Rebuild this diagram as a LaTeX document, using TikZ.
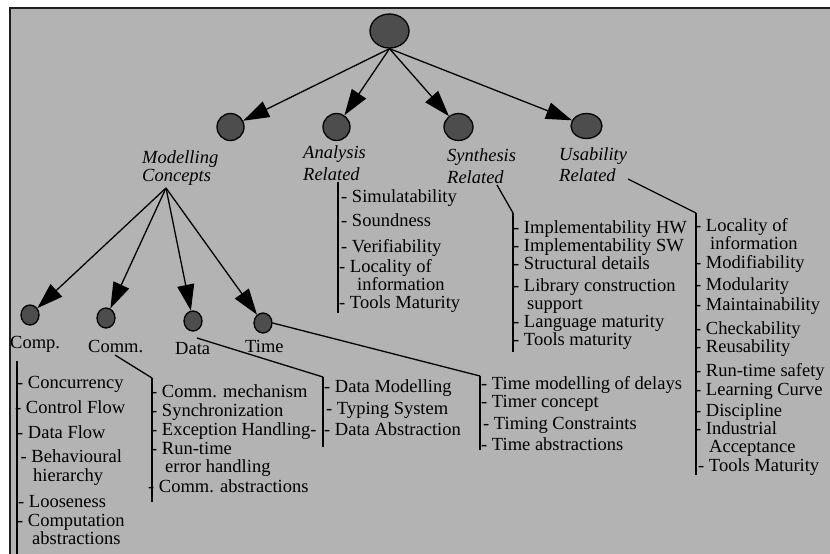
\documentclass[tikz,border=0pt]{standalone}
\usepackage{fontspec}
\setmainfont{Liberation Serif}
\usetikzlibrary{shapes.geometric,arrows.meta}
\definecolor{bggray}{HTML}{B3B3B3}
\definecolor{nodegray}{HTML}{4D4D4D}
\definecolor{framecol}{HTML}{1E1E1E}
\begin{document}
\begin{tikzpicture}[x=1pt,y=-1pt,
  font=\fontsize{18.5}{20}\selectfont,
  blob/.style={ellipse,draw=black,line width=1.3pt,fill=nodegray,inner sep=0pt},
  bigblob/.style={blob,minimum width=39pt,minimum height=34pt},
  midblob/.style={blob,minimum width=28pt,minimum height=27pt},
  smallblob/.style={blob,minimum width=18pt,minimum height=20pt},
  cat/.style={anchor=base west,inner sep=0pt,font=\fontsize{18.5}{20}\selectfont\itshape},
  lbl/.style={anchor=base west,inner sep=0pt},
  item/.style={anchor=base west,inner sep=0pt},
  arr/.style={line width=1.3pt,-{Triangle[length=26pt,width=17pt]}},
  conn/.style={line width=1.3pt},
  listline/.style={line width=2pt}]
\useasboundingbox (0,0) rectangle (830,554);
% frame
\fill[bggray] (10,7.7) rectangle (831,555);
\draw[framecol,line width=2.2pt] (10,556) -- (10,7.7) -- (832,7.7);

% root and first level
\node[bigblob] (root) at (389.5,31) {};
\node[midblob,minimum width=27pt] (mc) at (230.5,127) {};
\node[midblob,minimum width=27pt] (an) at (336.5,127) {};
\node[midblob,minimum width=29pt] (sy) at (458.5,127) {};
\node[midblob,minimum width=31pt,minimum height=25pt] (us) at (586.5,126) {};
\draw[arr] (root.south) -- (mc);
\draw[arr] (root.south) -- (an);
\draw[arr] (root.south) -- (sy);
\draw[arr] (root.south) -- (us);

% category labels
\node[cat] (mcA) at (142,163) {Modelling};
\node[cat] (mcB) at (142,181) {Concepts};
\node[cat] (anA) at (303,158) {Analysis};
\node[cat] (anB) at (303,180) {Related};
\node[cat] (syA) at (447,161) {Synthesis};
\node[cat] (syB) at (447,183) {Related};
\node[cat] (usA) at (559,160) {Usability};
\node[cat] (usB) at (559,181) {Related};

% modelling concepts children
\coordinate (mcpt) at (166,188);
\node[smallblob] (comp) at (30,315) {};
\node[smallblob] (comm) at (106,318) {};
\node[smallblob] (data) at (193,321) {};
\node[smallblob] (time) at (263,323) {};
\draw[arr] (mcpt) -- (comp);
\draw[arr] (mcpt) -- (comm);
\draw[arr] (mcpt) -- (data);
\draw[arr] (mcpt) -- (time);
\node[lbl] (compL) at (10,348) {Comp.};
\node[lbl] (commL) at (88,352) {Comm.};
\node[lbl] (dataL) at (175,354) {Data};
\node[lbl] (timeL) at (245,352) {Time};

% Analysis list
\coordinate (anT) at (338,182);
\coordinate (anE) at (338,313);
\draw[listline] (anT) -- (anE);
\node[item] (an1) at (341,202) {- Simulatability};
\node[item] (an2) at (341,226) {- Soundness};
\node[item] (an3) at (341,252) {- Verifiability};
\node[item] (an4) at (339,272) {- Locality of};
\node[item] (an4b) at (357,290) {information};
\node[item] (an5) at (339,308) {- Tools Maturity};

% Synthesis list
\coordinate (syS) at (497,185);
\coordinate (syT) at (513,213);
\coordinate (syE) at (513,352);
\draw[conn] (syS) -- (syT);
\draw[listline] (syT) -- (syE);
\node[item] (sy1) at (513,233) {- Implementability HW};
\node[item] (sy2) at (513,251) {- Implementability SW};
\node[item] (sy3) at (513,269) {- Structural details};
\node[item] (sy4) at (513,291) {- Library construction};
\node[item] (sy4b) at (527,309) {support};
\node[item] (sy5) at (513,327) {- Language maturity};
\node[item] (sy6) at (513,345) {- Tools maturity};

% Usability list
\coordinate (usS) at (628,179);
\coordinate (usT) at (696,213);
\coordinate (usE) at (696,475);
\draw[conn] (usS) -- (usT);
\draw[listline] (usT) -- (usE);
\node[item] (us1) at (695,231) {- Locality of};
\node[item] (us1b) at (710,249) {information};
\node[item] (us2) at (695,268) {- Modifiability};
\node[item] (us3) at (695,290) {- Modularity};
\node[item] (us4) at (695,310) {- Maintainability};
\node[item] (us5) at (695,334) {- Checkability};
\node[item] (us6) at (695,352) {- Reusability};
\node[item] (us7) at (695,376) {- Run-time safety};
\node[item] (us8) at (695,395) {- Learning Curve};
\node[item] (us9) at (695,416) {- Discipline};
\node[item] (us10) at (695,434) {- Industrial};
\node[item] (us10b) at (709,452) {Acceptance};
\node[item] (us11) at (698,471) {- Tools Maturity};

% Comp list
\coordinate (coT) at (17,361);
\coordinate (coE) at (17,556);
\draw[listline] (coT) -- (coE);
\node[item] (co1) at (17,388) {- Concurrency};
\node[item] (co2) at (15,413) {- Control Flow};
\node[item] (co3) at (17,438) {- Data Flow};
\node[item] (co4) at (20.5,462) {- Behavioural};
\node[item] (co4b) at (33,481) {hierarchy};
\node[item] (co5) at (18,507) {- Looseness};
\node[item] (co6) at (17,526) {- Computation};
\node[item] (co6b) at (32,544) {abstractions};

% Comm list
\coordinate (cmS) at (115,355);
\coordinate (cmT) at (152,378);
\coordinate (cmE) at (152,502);
\draw[conn] (cmS) -- (cmT);
\draw[listline] (cmT) -- (cmE);
\node[item] (cm1) at (151,397) {- Comm. mechanism};
\node[item] (cm2) at (151,416) {- Synchronization};
\node[item] (cm3) at (151,435) {- Exception Handling-};
\node[item] (cm4) at (151,454) {- Run-time};
\node[item] (cm4b) at (165,472) {error handling};
\node[item] (cm5) at (148,492) {- Comm. abstractions};

% Data list
\coordinate (daS) at (197,338);
\coordinate (daT) at (323,377);
\coordinate (daE) at (323,447);
\draw[conn] (daS) -- (daT);
\draw[listline] (daT) -- (daE);
\node[item] (da1) at (324,392) {- Data Modelling};
\node[item] (da2) at (326,414) {- Typing System};
\node[item] (da3) at (324,435) {- Data Abstraction};

% Time list
\coordinate (tiT) at (480,376);
\coordinate (tiE) at (480,450);
\draw[conn] (time.east) -- (tiT);
\draw[listline] (tiT) -- (tiE);
\node[item] (ti1) at (481,389) {- Time modelling of delays};
\node[item] (ti2) at (481,407) {- Timer concept};
\node[item] (ti3) at (483,429) {- Timing Constraints};
\node[item] (ti4) at (481,450) {- Time abstractions};
\end{tikzpicture}
\end{document}
